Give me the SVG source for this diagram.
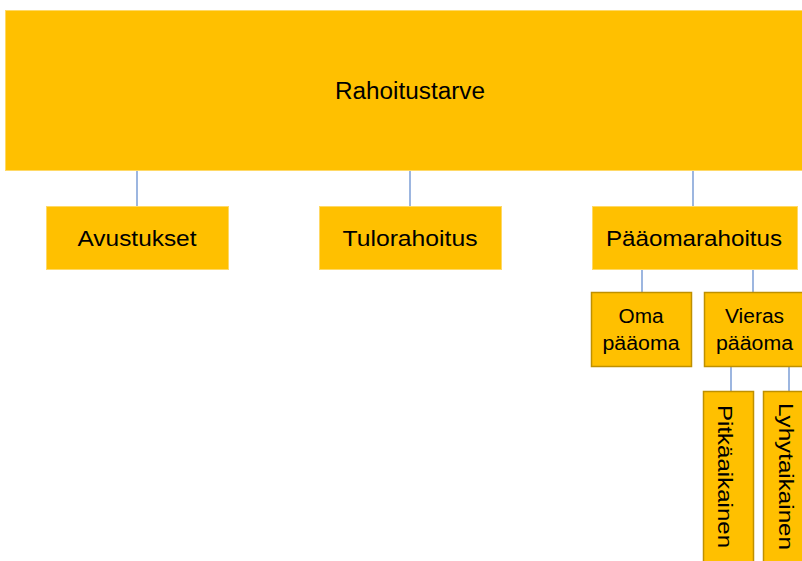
<svg xmlns="http://www.w3.org/2000/svg" width="802" height="561" viewBox="0 0 802 561">
<style>
.top{fill:#FFC000;stroke:#FFD966;stroke-width:1}
.sub{fill:#FFC000;stroke:#BF9000;stroke-width:1.5}
.lbl{font-family:"Liberation Sans",Arial,sans-serif;fill:#000;text-anchor:middle}
.big{font-size:23px}
.mid{font-size:22px}
.sm{font-size:20px}
.conn line{stroke:#5B85CC;stroke-width:1.2}
</style>
<rect width="802" height="561" fill="#fff"/>
<g class="conn">
<line x1="137" y1="171" x2="137" y2="206"/>
<line x1="410" y1="171" x2="410" y2="206"/>
<line x1="693" y1="171" x2="693" y2="206"/>
<line x1="642" y1="270" x2="642" y2="292"/>
<line x1="753" y1="270" x2="753" y2="292"/>
<line x1="731" y1="367" x2="731" y2="391"/>
<line x1="789" y1="367" x2="789" y2="391"/>
</g>
<g id="rahoitustarve">
<rect class="top" x="5.5" y="10.5" width="810" height="160"/>
<text class="lbl big" x="410" y="99" textLength="150" lengthAdjust="spacingAndGlyphs">Rahoitustarve</text>
</g>
<g id="avustukset">
<rect class="top" x="46.5" y="206.5" width="182" height="63"/>
<text class="lbl mid" x="137" y="246" textLength="119" lengthAdjust="spacingAndGlyphs">Avustukset</text>
</g>
<g id="tulorahoitus">
<rect class="top" x="319.5" y="206.5" width="182" height="63"/>
<text class="lbl mid" x="410" y="246" textLength="135" lengthAdjust="spacingAndGlyphs">Tulorahoitus</text>
</g>
<g id="paaomarahoitus">
<rect class="top" x="592.5" y="206.5" width="205" height="63"/>
<text class="lbl mid" x="694" y="246" textLength="176" lengthAdjust="spacingAndGlyphs">Pääomarahoitus</text>
</g>
<g id="oma">
<rect class="sub" x="591.5" y="292.5" width="100" height="74"/>
<text class="lbl sm" x="641" y="323" textLength="45" lengthAdjust="spacingAndGlyphs">Oma</text>
<text class="lbl sm" x="641" y="350" textLength="77" lengthAdjust="spacingAndGlyphs">pääoma</text>
</g>
<g id="vieras">
<rect class="sub" x="704.5" y="292.5" width="110" height="74"/>
<text class="lbl sm" x="754.5" y="323" textLength="59" lengthAdjust="spacingAndGlyphs">Vieras</text>
<text class="lbl sm" x="754.5" y="350" textLength="77" lengthAdjust="spacingAndGlyphs">pääoma</text>
</g>
<g id="pitkaaikainen">
<rect class="sub" x="703.5" y="391.5" width="50" height="190"/>
<text class="lbl sm" transform="translate(718,476.5) rotate(90)" x="0" y="0" textLength="143" lengthAdjust="spacingAndGlyphs">Pitkäaikainen</text>
</g>
<g id="lyhytaikainen">
<rect class="sub" x="763.5" y="391.5" width="50" height="190"/>
<text class="lbl sm" transform="translate(779,476.5) rotate(90)" x="0" y="0" textLength="147" lengthAdjust="spacingAndGlyphs">Lyhytaikainen</text>
</g>
</svg>
